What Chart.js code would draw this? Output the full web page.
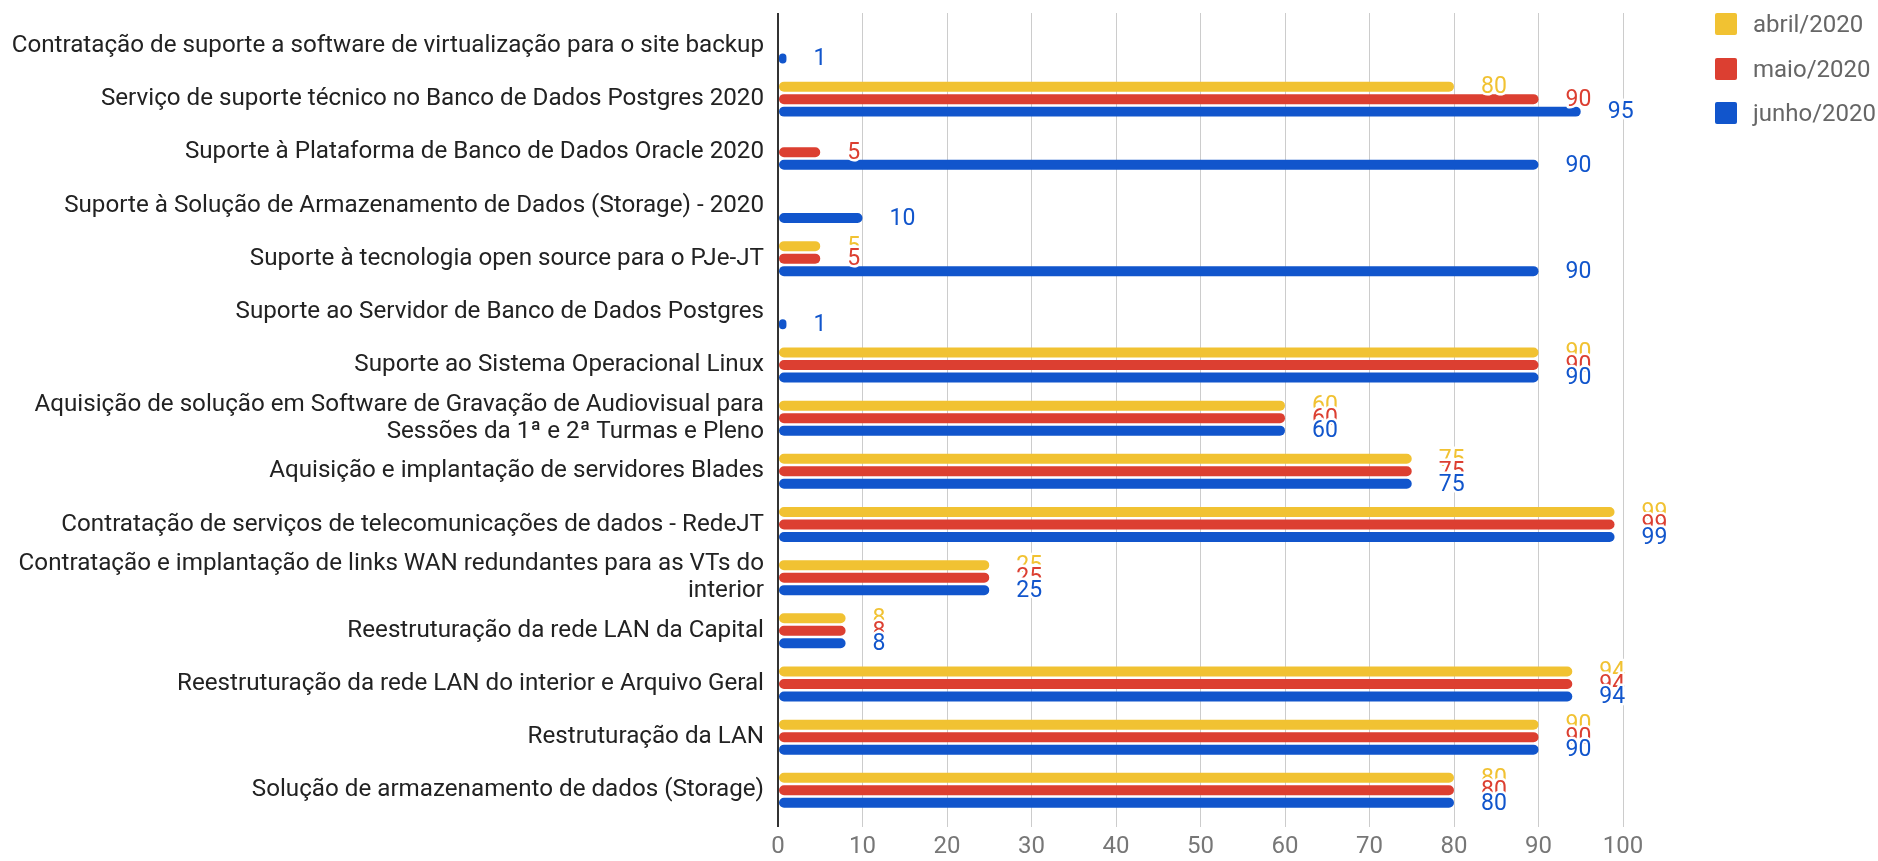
<!DOCTYPE html>
<html>
<head>
<meta charset="utf-8">
<script src="https://cdn.jsdelivr.net/npm/chart.js@4"></script>
<style>
  body { margin: 0; background: #fff; font-family: Roboto, sans-serif; }
  #wrap { position: relative; width: 1878px; height: 861px; }
  #legend { position: absolute; left: 1715px; top: 13px; }
  .item { display: flex; align-items: center; height: 22px; margin-bottom: 22.5px; }
  .sw { width: 22px; height: 22px; border-radius: 2px; margin-right: 16px; }
  .item span { font-size: 24px; color: #666; line-height: 22px; white-space: nowrap; }
</style>
</head>
<body>
<div id="wrap">
  <canvas id="chart"></canvas>
  <div id="legend"></div>
</div>
<script>
// categories (top to bottom)
const categories = [
  'Contratação de suporte a software de virtualização para o site backup',
  'Serviço de suporte técnico no Banco de Dados Postgres 2020',
  'Suporte à Plataforma de Banco de Dados Oracle 2020',
  'Suporte à Solução de Armazenamento de Dados (Storage) - 2020',
  'Suporte à tecnologia open source para o PJe-JT',
  'Suporte ao Servidor de Banco de Dados Postgres',
  'Suporte ao Sistema Operacional Linux',
  ['Aquisição de solução em Software de Gravação de Audiovisual para', 'Sessões da 1ª e 2ª Turmas e Pleno'],
  'Aquisição e implantação de servidores Blades',
  'Contratação de serviços de telecomunicações de dados - RedeJT',
  ['Contratação e implantação de links WAN redundantes para as VTs do', 'interior'],
  'Reestruturação da rede LAN da Capital',
  'Reestruturação da rede LAN do interior e Arquivo Geral',
  'Restruturação da LAN',
  'Solução de armazenamento de dados (Storage)'
];

const seriesNames = ['abril/2020', 'maio/2020', 'junho/2020'];
const seriesColors = ['#f1c232', '#dc3f31', '#1155cc'];

const abril = [null, 80, null, null, 5, null, 90, 60, 75, 99, 25, 8, 94, 90, 80];
const maio  = [null, 90, 5, null, 5, null, 90, 60, 75, 99, 25, 8, 94, 90, 80];
const junho = [1, 95, 90, 10, 90, 1, 90, 60, 75, 99, 25, 8, 94, 90, 80];

const xTicks = [0, 10, 20, 30, 40, 50, 60, 70, 80, 90, 100];

const font = 'Roboto';

// value labels with a white halo, drawn after all bars
const valueLabels = {
  id: 'valueLabels',
  afterDatasetsDraw(chart) {
    const ctx = chart.ctx;
    ctx.save();
    ctx.font = '23px ' + font;
    ctx.textAlign = 'left';
    ctx.textBaseline = 'middle';
    ctx.lineJoin = 'round';
    chart.data.datasets.forEach((ds, d) => {
      chart.getDatasetMeta(d).data.forEach((bar, i) => {
        const v = ds.data[i].x;
        if (v === null) return;
        ctx.strokeStyle = '#fff';
        ctx.lineWidth = 5;
        ctx.strokeText(String(v), bar.x + 27, bar.y + 1);
        ctx.fillStyle = ds.backgroundColor;
        ctx.fillText(String(v), bar.x + 27, bar.y + 1);
      });
    });
    ctx.restore();
  }
};

const series = [abril, maio, junho];

new Chart(document.getElementById('chart'), {
  type: 'bar',
  data: {
    datasets: series.map((vals, s) => ({
      label: seriesNames[s],
      data: vals.map((v, i) => ({ x: v, y: i })),
      backgroundColor: seriesColors[s],
      borderRadius: 5,
      borderSkipped: false,
      categoryPercentage: 0.705,
      barPercentage: 0.8
    }))
  },
  options: {
    indexAxis: 'y',
    responsive: true,
    maintainAspectRatio: false,
    animation: false,
    layout: { padding: { top: 13, right: 255, bottom: 0, left: 0 } },
    plugins: { legend: { display: false }, tooltip: { enabled: false } },
    scales: {
      x: {
        type: 'linear',
        min: 0,
        max: 100,
        afterBuildTicks: s => { s.ticks = xTicks.map(v => ({ value: v })); },
        afterFit: s => { s.height = 34; s.paddingLeft = 0; s.paddingRight = 0; },
        grid: {
          color: c => (c.tick && c.tick.value === 0 ? '#333' : '#ccc'),
          lineWidth: c => (c.tick && c.tick.value === 0 ? 2 : 1),
          drawTicks: false
        },
        border: { display: false },
        ticks: { color: '#777', padding: 10, font: { family: font, size: 24, lineHeight: 0.8 } }
      },
      y: {
        type: 'linear',
        reverse: true,
        offset: false,
        min: -0.62,
        max: 14.69,
        afterBuildTicks: s => { s.ticks = categories.map((c, i) => ({ value: i })); },
        afterFit: s => { s.width = 778; s.paddingTop = 0; s.paddingBottom = 0; },
        grid: { display: false, drawTicks: false, offset: false },
        border: { display: false },
        ticks: {
          autoSkip: false,
          color: '#222',
          padding: 14,
          font: { family: font, size: 24.2, lineHeight: 1.1 },
          callback: v => categories[v]
        }
      }
    }
  },
  plugins: [valueLabels]
});

// legend
const legend = document.getElementById('legend');
seriesNames.forEach((name, s) => {
  const row = document.createElement('div');
  row.className = 'item';
  row.innerHTML = '<div class="sw" style="background:' + seriesColors[s] + '"></div><span>' + name + '</span>';
  legend.appendChild(row);
});
</script>
</body>
</html>
